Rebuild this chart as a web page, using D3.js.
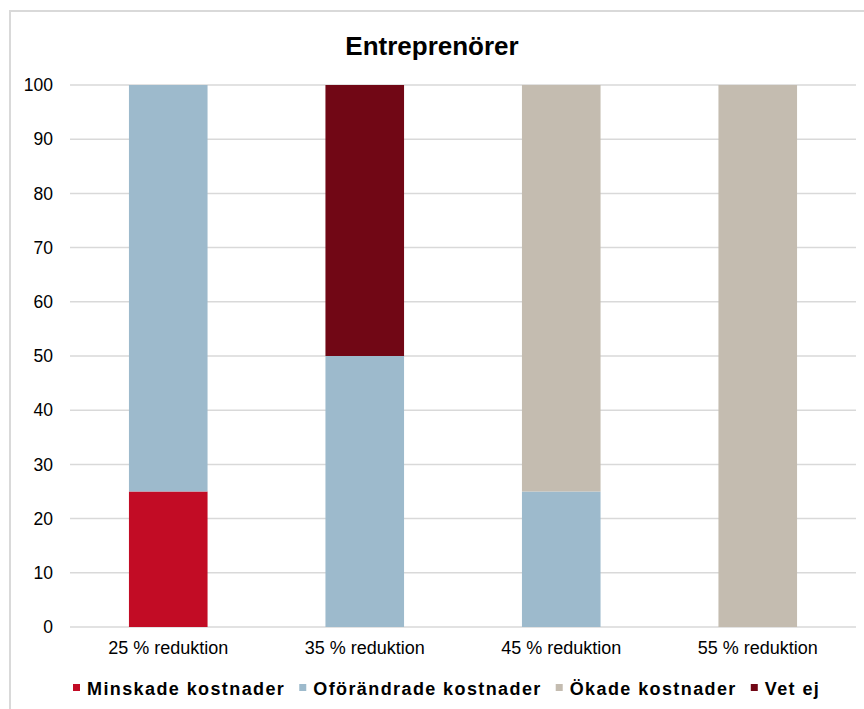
<!DOCTYPE html>
<meta charset="utf-8">
<title>Entreprenörer</title>
<style>
    body { margin: 0; background: #fff; }
    text { font-family: "Liberation Sans", Arial, sans-serif; fill: #000; }
</style>
<body>
</body>

<script src="https://d3js.org/d3.v7.min.js"></script>
<script>
    const width = 864, height = 709;

    const categories = ["25 % reduktion", "35 % reduktion", "45 % reduktion", "55 % reduktion"];
    const seriesNames = ["Minskade kostnader", "Oförändrade kostnader", "Ökade kostnader", "Vet ej"];
    const minskade = [25, 0, 0, 0];
    const oforandrade = [75, 50, 25, 0];
    const okade = [0, 0, 75, 100];
    const vetEj = [0, 50, 0, 0];
    const yTicks = [0, 10, 20, 30, 40, 50, 60, 70, 80, 90, 100];
    const colors = ["#c20c25", "#9dbacc", "#c4bcb0", "#710715"];

    const rows = categories.map((c, i) => ({
        cat: c,
        [seriesNames[0]]: minskade[i],
        [seriesNames[1]]: oforandrade[i],
        [seriesNames[2]]: okade[i],
        [seriesNames[3]]: vetEj[i]
    }));

    const svg = d3.select("body").append("svg")
        .attr("width", width)
        .attr("height", height);

    // chart frame
    svg.append("path")
        .attr("d", "M10," + height + "V11H" + width)
        .attr("fill", "none")
        .attr("stroke", "#d9d9d9")
        .attr("stroke-width", 2);

    const x = d3.scaleBand()
        .domain(categories)
        .range([70, 856])
        .paddingInner(0.6)
        .paddingOuter(0.3);

    const y = d3.scaleLinear()
        .domain([0, 100])
        .range([627, 85]);

    // gridlines
    svg.append("g")
        .selectAll("line")
        .data(yTicks)
        .join("line")
        .attr("x1", 70)
        .attr("x2", 856)
        .attr("y1", d => y(d))
        .attr("y2", d => y(d))
        .attr("stroke", "#d9d9d9")
        .attr("stroke-width", 1.5);

    // y labels
    const yAxis = svg.append("g")
        .attr("transform", "translate(62,0)")
        .call(d3.axisLeft(y).tickValues(yTicks).tickSize(0).tickPadding(9));
    yAxis.select(".domain").remove();
    yAxis.selectAll("text")
        .style("font-size", "17.5px")
        .attr("fill", "#000");

    const stack = d3.stack().keys(seriesNames)(rows);

    svg.append("g")
        .selectAll("g")
        .data(stack)
        .join("g")
        .attr("fill", (d, i) => colors[i])
        .selectAll("rect")
        .data(d => d)
        .join("rect")
        .attr("x", d => x(d.data.cat))
        .attr("width", x.bandwidth())
        .attr("y", d => y(d[1]))
        .attr("height", d => y(d[0]) - y(d[1]));

    // x labels
    const xAxis = svg.append("g")
        .attr("transform", "translate(0,627)")
        .call(d3.axisBottom(x).tickSize(0).tickPadding(14));
    xAxis.select(".domain").remove();
    xAxis.selectAll("text")
        .style("font-size", "18px")
        .attr("fill", "#000");

    // title
    svg.append("text")
        .attr("x", 432)
        .attr("y", 55)
        .attr("text-anchor", "middle")
        .style("font-size", "26px")
        .style("font-weight", "bold")
        .text("Entreprenörer");

    // legend
    const legend = svg.append("g").attr("transform", "translate(73,688)");
    let lx = 0;
    seriesNames.forEach((name, i) => {
        const g = legend.append("g").attr("transform", "translate(" + lx + ",0)");
        g.append("rect")
            .attr("x", 0)
            .attr("y", -4)
            .attr("width", 7)
            .attr("height", 7)
            .attr("fill", colors[i]);
        const t = g.append("text")
            .attr("x", 14)
            .attr("y", 6.5)
            .style("font-size", "18px")
            .style("font-weight", "bold")
            .style("letter-spacing", "1.4px")
            .text(name);
        lx += 14 + t.node().getComputedTextLength() + 14;
    });
</script>
